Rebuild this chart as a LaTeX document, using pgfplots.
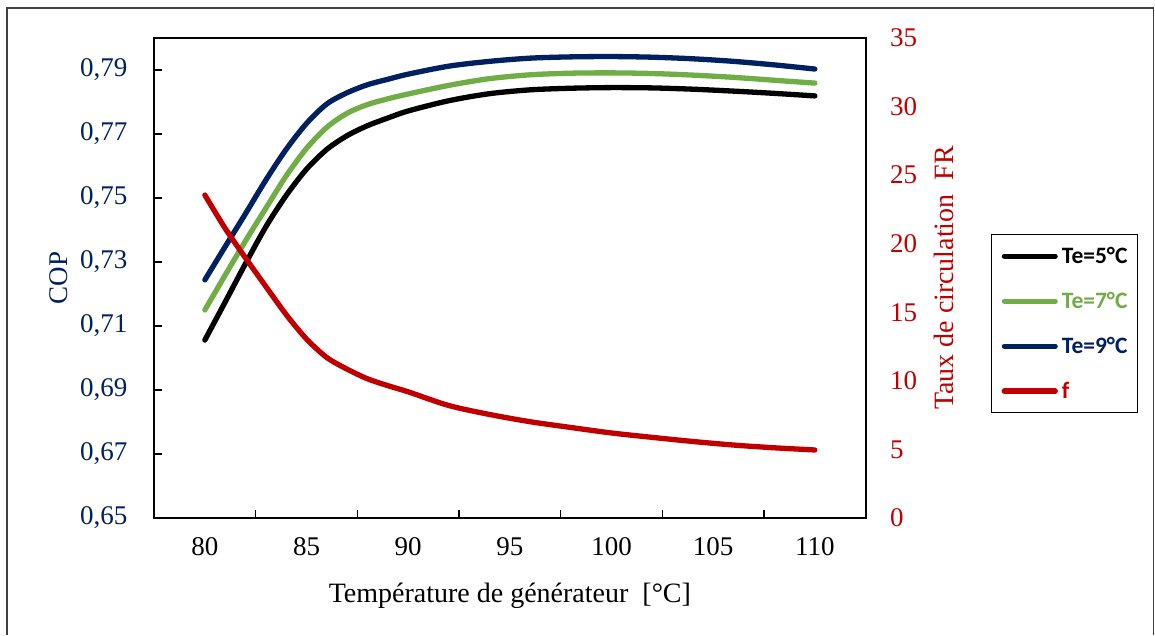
\documentclass[border=0pt]{standalone}
\usepackage{fontspec}
\setmainfont{Liberation Serif}
\newfontfamily\carlito{Carlito}
\usepackage{pgfplots}
\usepackage{pgfplotstable}
\pgfplotsset{compat=1.18}

\definecolor{copnavy}{HTML}{002060}
\definecolor{tegreen}{HTML}{70AD47}
\definecolor{fred}{HTML}{C00000}

% COP for three evaporator temperatures, and circulation ratio f
\pgfplotstableread{
T    te5     te7     te9     f
80   0.7056  0.7150  0.7244  23.55
81   0.7175  0.7259  0.7348  21.12
82   0.7295  0.7366  0.7451  18.96
83   0.7410  0.7468  0.7556  16.88
84   0.7508  0.7569  0.7652  14.83
85   0.7590  0.7655  0.7733  13.05
86   0.7652  0.7721  0.7794  11.70
87   0.7695  0.7765  0.7829  10.85
88   0.7726  0.7792  0.7854  10.15
89   0.7750  0.7810  0.7871  9.65
90   0.7772  0.7825  0.7887  9.20
92   0.7804  0.7852  0.7912  8.20
94   0.7826  0.7873  0.7927  7.55
96   0.7838  0.7885  0.7937  7.02
98   0.7843  0.7890  0.7941  6.60
100  0.7845  0.7891  0.7942  6.20
102  0.7844  0.7889  0.7940  5.88
104  0.7840  0.7884  0.7935  5.58
106  0.7834  0.7877  0.7927  5.32
108  0.7827  0.7868  0.7916  5.12
110  0.7819  0.7859  0.7903  4.96
}\data

\begin{document}
\begin{tikzpicture}[x=1pt,y=1pt]
\useasboundingbox (0,0) rectangle (1155,635);
\draw[line width=1.5pt, black!75] (7,0) -- (7,627) -- (1153.5,627) -- (1153.5,0);

\pgfplotsset{
  common/.style={
    at={(154pt,117pt)}, anchor=south west,
    scale only axis, width=711.7pt, height=480pt,
    xmin=77.5, xmax=112.5,
    tick label style={font=\fontsize{27}{31}\selectfont},
    /pgf/number format/assume math mode=true,
  },
}

\begin{axis}[common,
  ymin=0.65, ymax=0.80,
  axis line style={black, line width=1.6pt},
  tick style={black, line width=1.6pt},
  tick align=inside, major tick length=8pt,
  xtick pos=bottom, ytick pos=left,
  xtick={82.5,87.5,92.5,97.5,102.5,107.5}, xticklabels={},
  extra x ticks={80,85,90,95,100,105,110},
  extra x tick style={major tick length=0pt},
  xticklabel style={yshift=-16pt},
  ytick={0.65,0.67,0.69,0.71,0.73,0.75,0.77,0.79},
  yticklabel style={copnavy, xshift=-23pt,
    /pgf/number format/.cd, fixed, fixed zerofill, precision=2, use comma},
  xlabel={Température de générateur\ \ [°C]},
  every axis x label/.style={at={(axis description cs:0.5,-0.175)}, anchor=base,
    font=\fontsize{28}{32}\selectfont},
  ylabel={COP},
  every axis y label/.style={at={(axis description cs:-0.121,0.5)}, rotate=90, anchor=base,
    copnavy, font=\fontsize{27}{32}\selectfont},
]
\addplot[black, line width=5.3pt, line cap=round, smooth] table[x=T, y=te5]{\data};
\addplot[tegreen, line width=5.3pt, line cap=round, smooth] table[x=T, y=te7]{\data};
\addplot[copnavy, line width=5.3pt, line cap=round, smooth] table[x=T, y=te9]{\data};
\end{axis}

\begin{axis}[common,
  ymin=0, ymax=35,
  axis x line=none, axis y line*=right,
  y axis line style={draw=none},
  major tick length=0pt,
  ytick={0,5,...,35},
  yticklabel style={fred, xshift=21pt},
  ylabel={Taux de circulation\ \ FR},
  every axis y label/.style={at={(axis description cs:1.1227,0.5)}, rotate=90, anchor=base,
    fred, font=\fontsize{28}{32}\selectfont},
  legend style={at={(axis description cs:1.176,0.5917)}, anchor=north west,
    draw=black, line width=1.3pt, inner xsep=10pt, inner ysep=14pt,
    font=\carlito\bfseries\fontsize{23.5}{28}\selectfont,
    nodes={inner sep=0pt, text height=15pt, text depth=0pt},
    row sep=30pt, column sep=4pt},
  legend cell align=left,
  legend image code/.code={\draw[#1, line cap=round] (0pt,0pt) -- (51pt,0pt);},
]
\addlegendimage{black, line width=5pt}
\addlegendentry[text=black]{Te=5°C}
\addlegendimage{tegreen, line width=5pt}
\addlegendentry[text=tegreen]{Te=7°C}
\addlegendimage{copnavy, line width=5pt}
\addlegendentry[text=copnavy]{Te=9°C}
\addplot[fred, line width=5.3pt, line cap=round, smooth] table[x=T, y=f]{\data};
\addlegendentry[text=fred]{f}
\end{axis}
\end{tikzpicture}
\end{document}
